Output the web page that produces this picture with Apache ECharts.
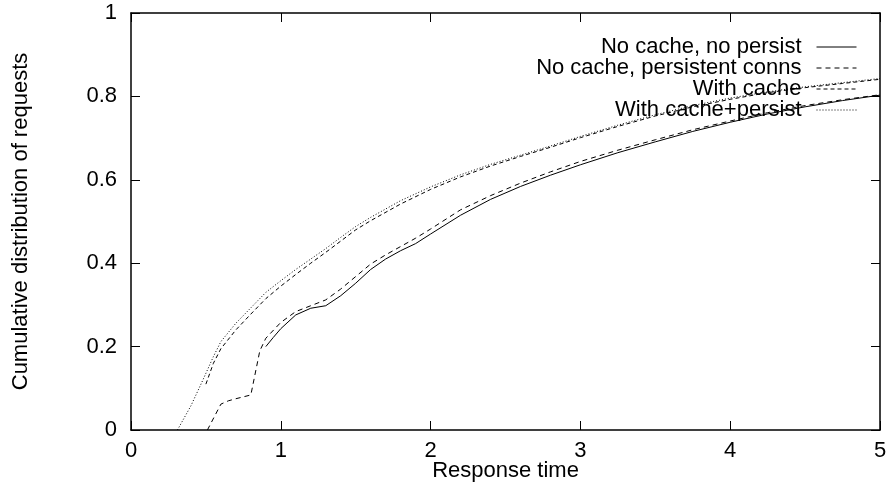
<!DOCTYPE html>
<html>
<head>
<meta charset="utf-8">
<script src="https://cdn.jsdelivr.net/npm/echarts@6/dist/echarts.min.js"></script>
<style>
  html, body { margin: 0; padding: 0; background: #fff; }
  #chart { width: 889px; height: 483px; }
</style>
</head>
<body>
<div id="chart"></div>
<script>
// series names (legend order)
const seriesNames = ['No cache, no persist', 'No cache, persistent conns', 'With cache', 'With cache+persist'];

// No cache, no persist
const noPersistX = [0.9, 0.95, 1.0, 1.1, 1.2, 1.3, 1.4, 1.5, 1.6, 1.7, 1.8, 1.9, 2.0, 2.2, 2.4, 2.6, 2.8, 3.0, 3.25, 3.5, 3.75, 4.0, 4.25, 4.5, 4.75, 5.0];
const noPersistY = [0.2, 0.222, 0.243, 0.276, 0.292, 0.298, 0.322, 0.352, 0.385, 0.41, 0.43, 0.447, 0.47, 0.515, 0.553, 0.584, 0.611, 0.636, 0.665, 0.691, 0.716, 0.738, 0.758, 0.775, 0.79, 0.803];

// No cache, persistent conns
const persistX = [0.51, 0.6, 0.65, 0.7, 0.8, 0.86, 0.9, 1.0, 1.1, 1.2, 1.3, 1.4, 1.5, 1.6, 1.7, 1.8, 1.9, 2.0, 2.2, 2.4, 2.6, 2.8, 3.0, 3.25, 3.5, 3.75, 4.0, 4.25, 4.5, 4.75, 5.0];
const persistY = [0.0, 0.062, 0.07, 0.075, 0.084, 0.19, 0.22, 0.258, 0.284, 0.298, 0.312, 0.338, 0.368, 0.398, 0.42, 0.44, 0.46, 0.482, 0.528, 0.562, 0.592, 0.619, 0.644, 0.671, 0.696, 0.72, 0.741, 0.761, 0.778, 0.792, 0.804];

// With cache
const cacheX = [0.5, 0.55, 0.6, 0.7, 0.8, 0.9, 1.0, 1.1, 1.2, 1.3, 1.4, 1.5, 1.6, 1.8, 2.0, 2.2, 2.4, 2.6, 2.8, 3.0, 3.25, 3.5, 3.75, 4.0, 4.25, 4.5, 4.75, 5.0];
const cacheY = [0.11, 0.16, 0.195, 0.24, 0.278, 0.315, 0.345, 0.373, 0.4, 0.426, 0.453, 0.48, 0.502, 0.542, 0.577, 0.607, 0.633, 0.656, 0.678, 0.701, 0.728, 0.753, 0.775, 0.793, 0.809, 0.821, 0.831, 0.841];

// With cache+persist
const cachePersistX = [0.31, 0.4, 0.48, 0.55, 0.6, 0.7, 0.8, 0.9, 1.0, 1.1, 1.2, 1.3, 1.4, 1.5, 1.6, 1.8, 2.0, 2.2, 2.4, 2.6, 2.8, 3.0, 3.25, 3.5, 3.75, 4.0, 4.25, 4.5, 4.75, 5.0];
const cachePersistY = [0.0, 0.058, 0.12, 0.176, 0.212, 0.256, 0.293, 0.33, 0.358, 0.385, 0.41, 0.435, 0.462, 0.488, 0.51, 0.55, 0.583, 0.612, 0.637, 0.659, 0.681, 0.704, 0.731, 0.756, 0.778, 0.796, 0.811, 0.823, 0.833, 0.843];

const lineTypes = ['solid', [5, 4], [4, 3], [1, 2]];
const seriesX = [noPersistX, persistX, cacheX, cachePersistX];
const seriesY = [noPersistY, persistY, cacheY, cachePersistY];

const font = 'Liberation Sans, Arial, sans-serif';
const black = '#000';
const fontSize = 22;

const chart = echarts.init(document.getElementById('chart'), null, { renderer: 'canvas' });

function frameAxis(extra) {
  return Object.assign({
    type: 'value',
    axisLine: { show: true, onZero: false, lineStyle: { color: black, width: 1.5 } },
    axisTick: { show: true, inside: true, length: 9, lineStyle: { color: black, width: 1 } },
    splitLine: { show: false },
  }, extra);
}

chart.setOption({
  animation: false,
  backgroundColor: '#fff',
  grid: {
    left: 131,
    right: 9,
    top: 13,
    bottom: 53,
    containLabel: false,
    outerBoundsMode: 'none',
  },
  legend: {
    data: seriesNames,
    orient: 'vertical',
    align: 'right',
    right: 27,
    top: 31,
    itemWidth: 40,
    itemHeight: 14,
    itemGap: -1,
    selectedMode: false,
    itemStyle: { opacity: 0, borderWidth: 0 },
    lineStyle: { width: 1 },
    textStyle: {
      fontFamily: font,
      fontSize: fontSize,
      color: black,
      padding: [0, 10, 0, 0],
    },
  },
  xAxis: [
    frameAxis({
      position: 'bottom',
      min: 0,
      max: 5,
      interval: 1,
      name: 'Response time',
      nameLocation: 'middle',
      nameGap: 30,
      nameMoveOverlap: false,
      nameTextStyle: { fontFamily: font, fontSize: fontSize, color: black },
      axisLabel: { margin: 10, fontFamily: font, fontSize: fontSize, color: black },
    }),
    frameAxis({
      position: 'top',
      min: 0,
      max: 5,
      interval: 1,
      axisLabel: { show: false },
    }),
  ],
  yAxis: [
    frameAxis({
      position: 'left',
      min: 0,
      max: 1,
      interval: 0.2,
      name: 'Cumulative distribution of requests',
      nameLocation: 'middle',
      nameGap: 99,
      nameMoveOverlap: false,
      nameTextStyle: { fontFamily: font, fontSize: fontSize, color: black },
      axisLabel: { margin: 14, fontFamily: font, fontSize: fontSize, color: black },
    }),
    frameAxis({
      position: 'right',
      min: 0,
      max: 1,
      interval: 0.2,
      axisLabel: { show: false },
    }),
  ],
  series: seriesNames.map((name, i) => ({
    name,
    type: 'line',
    xAxisIndex: 0,
    yAxisIndex: 0,
    symbol: 'none',
    smooth: false,
    clip: true,
    data: seriesX[i].map((x, j) => [x, seriesY[i][j]]),
    itemStyle: { color: black },
    lineStyle: { color: black, width: 1, type: lineTypes[i] },
  })),
});
</script>
</body>
</html>
